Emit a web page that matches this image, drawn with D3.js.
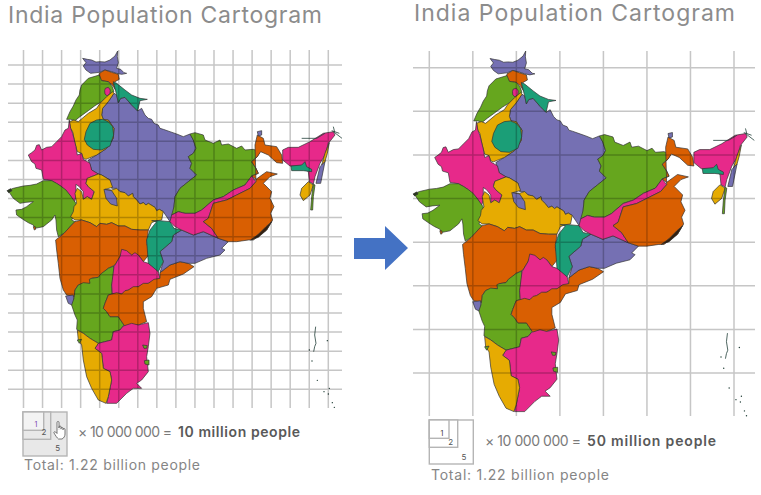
<!DOCTYPE html>
<html><head><meta charset="utf-8">
<script src="https://cdn.jsdelivr.net/npm/d3@7"></script>
<style>html,body{margin:0;padding:0;background:#fff}svg{display:block}text{font-variant-ligatures:none}</style></head>
<body><svg id="c" width="761" height="495"></svg>
<script>
const titleText = "India Population Cartogram";
const totalText = "Total: 1.22 billion people";
const multiplierText = "× 10 000 000 =";
const legendBold = ["10 million people", "50 million people"];
const legendUnits = ["1", "2", "5"];
const purple="#7570b3", green="#66a61e", pink="#e7298a", teal="#1b9e77", orange="#d95f02", yellow="#e6ab02";

const kashmir=[[248,175],[262,178],[275,180],[288,186],[300,185],[315,186],[330,180],[345,168],[353,153],[352,170],[355,188],[350,205],[362,208],[372,218],[380,220],[365,223],[350,220],[335,215],[315,210],[298,217],[272,220],[258,210],[250,198],[258,188]];
const ladakh=[[298,220],[315,210],[335,217],[355,223],[358,238],[345,245],[340,250],[347,270],[337,255],[325,245],[305,242],[296,232]];
const punjab=[[298,225],[305,242],[325,245],[337,260],[342,275],[322,292],[305,305],[285,317],[265,332],[240,350],[225,362],[212,358],[200,358],[210,335],[220,318],[228,300],[238,285],[240,270],[245,255],[265,235]];
const chandigarh=[[316,265],[325,262],[331,270],[330,280],[322,288],[315,282],[314,272]];
const uttarakhand=[[340,245],[350,250],[375,270],[395,285],[420,295],[442,298],[420,302],[413,333],[395,315],[375,292],[362,295],[355,308],[350,285],[345,265]];
const haryana=[[342,280],[325,305],[308,325],[305,345],[310,358],[325,360],[342,385],[340,415],[320,445],[290,465],[258,478],[250,475],[245,460],[232,455],[225,430],[218,395],[212,385],[208,365],[222,360],[235,365],[265,340],[290,325],[300,310],[320,290],[338,275]];
const delhi=[[290,360],[308,358],[325,365],[338,380],[341,405],[330,438],[305,450],[280,448],[262,435],[253,418],[258,395],[270,370]];
const uttarPradesh=[[350,285],[355,308],[362,295],[375,292],[395,315],[413,333],[425,325],[435,345],[445,355],[455,358],[462,370],[475,375],[480,385],[490,388],[510,395],[530,402],[550,410],[570,402],[580,420],[588,445],[580,460],[565,470],[575,490],[570,505],[590,525],[565,545],[540,565],[525,590],[522,620],[525,640],[512,668],[500,650],[490,635],[478,628],[470,632],[465,622],[445,610],[438,615],[430,608],[420,612],[410,600],[400,590],[398,580],[385,588],[375,578],[360,575],[350,565],[335,565],[330,540],[305,525],[295,522],[275,510],[265,480],[290,465],[320,445],[340,415],[342,385],[325,360],[310,358],[305,345],[308,325],[325,305],[342,280]];
const rajasthan=[[208,360],[212,385],[218,400],[228,440],[232,465],[245,460],[250,478],[262,485],[270,490],[275,510],[295,522],[262,535],[258,550],[265,560],[283,575],[275,598],[262,590],[250,598],[250,575],[238,560],[228,553],[228,590],[222,610],[210,585],[185,560],[155,542],[130,538],[125,510],[108,505],[105,492],[95,485],[85,465],[95,458],[105,450],[110,436],[118,434],[125,450],[140,442],[155,440],[170,425],[185,410],[195,390],[205,385]];
const gujarat=[[22,572],[40,565],[70,558],[90,556],[110,552],[130,542],[155,542],[170,550],[185,560],[198,570],[210,585],[228,610],[225,645],[215,660],[225,665],[215,675],[192,700],[175,710],[170,690],[168,660],[165,645],[155,660],[140,672],[130,680],[105,685],[100,675],[85,668],[72,660],[50,645],[48,630],[65,628],[80,620],[100,605],[78,607],[60,610],[40,595],[30,580]];
const diu=[[100,680],[106,680],[107,688],[103,690]];
const madhyaPradesh=[[262,535],[295,522],[305,525],[330,540],[338,562],[315,568],[335,570],[350,565],[360,575],[375,578],[385,588],[398,580],[400,590],[410,600],[420,612],[430,608],[438,615],[445,610],[465,622],[470,632],[478,628],[490,635],[485,660],[470,662],[455,668],[445,690],[420,690],[395,688],[375,678],[355,678],[335,668],[320,673],[300,670],[290,680],[270,668],[245,660],[225,660],[212,650],[220,635],[222,620],[230,610],[225,580],[232,565],[245,575],[250,598],[262,590],[275,598],[283,575],[265,560],[258,550]];
const lake=[[312,568],[335,572],[350,595],[352,618],[332,612],[318,595]];
const maharashtra=[[225,665],[245,660],[270,668],[290,680],[300,670],[320,673],[335,668],[355,678],[375,678],[395,688],[420,690],[445,690],[440,730],[450,760],[430,785],[415,765],[395,765],[370,750],[360,770],[345,795],[325,805],[295,832],[275,835],[270,850],[235,855],[225,870],[225,890],[200,885],[190,870],[180,835],[175,790],[170,750],[167,720],[180,710],[192,700],[215,675]];
const goa=[[197,888],[220,885],[222,918],[205,910]];
const karnataka=[[225,870],[235,855],[250,848],[270,850],[268,838],[275,835],[295,832],[302,822],[325,805],[342,798],[340,830],[335,860],[337,882],[325,885],[315,910],[310,925],[320,935],[330,950],[355,950],[372,975],[360,990],[340,995],[335,1020],[295,1030],[270,1015],[250,1000],[230,988],[232,960],[225,945],[215,915],[222,895]];
const telangana=[[365,748],[380,752],[395,765],[405,758],[415,765],[430,785],[445,790],[460,800],[475,815],[480,835],[445,850],[415,860],[385,870],[365,882],[337,882],[335,855],[342,800],[345,795],[360,770]];
const andhra=[[325,885],[350,878],[365,882],[375,872],[385,870],[400,860],[415,860],[430,850],[445,850],[462,838],[480,835],[480,818],[510,795],[540,785],[565,790],[582,800],[550,822],[510,838],[505,855],[470,865],[455,890],[430,905],[430,925],[440,965],[415,975],[375,978],[372,975],[355,950],[330,950],[320,935],[310,925],[315,910]];
const tamilNadu=[[370,978],[395,970],[415,975],[445,968],[450,1000],[445,1040],[440,1070],[445,1115],[425,1140],[410,1150],[425,1165],[400,1165],[380,1180],[350,1210],[320,1210],[325,1190],[335,1140],[330,1115],[310,1105],[305,1060],[285,1045],[295,1030],[335,1020],[340,995],[360,990]];
const kerala=[[232,990],[250,1000],[270,1015],[295,1030],[285,1045],[305,1060],[310,1105],[330,1115],[335,1140],[325,1190],[318,1210],[295,1200],[275,1165],[260,1130],[250,1080],[245,1035],[235,1020]];
const pondicherry=[[428,1035],[442,1037],[440,1045],[432,1045]];
const karaikal=[[433,1082],[447,1080],[447,1095],[435,1092]];
const mahe=[[232,1020],[245,1018],[238,1030]];
const chhattisgarh=[[455,662],[480,662],[510,665],[522,685],[545,690],[520,705],[515,725],[480,755],[490,785],[475,815],[445,790],[440,720],[450,690],[470,665]];
const bihar=[[570,402],[585,398],[610,405],[615,420],[640,430],[660,420],[665,435],[685,432],[710,445],[725,438],[735,450],[760,448],[780,455],[772,470],[755,485],[768,505],[775,520],[755,528],[735,555],[700,570],[670,590],[640,600],[605,630],[585,640],[555,640],[535,635],[515,645],[522,620],[525,590],[540,565],[565,545],[590,525],[570,505],[575,490],[565,470],[580,460],[588,445],[580,420]];
const jharkhand=[[755,528],[768,545],[750,565],[710,585],[680,600],[640,610],[625,655],[610,665],[635,685],[655,715],[610,695],[580,705],[545,690],[525,680],[510,665],[515,645],[535,635],[555,640],[585,640],[605,630],[640,600],[670,590],[700,570],[735,555]];
const bengal=[[765,435],[772,405],[790,415],[795,435],[830,440],[845,465],[848,490],[830,488],[805,465],[782,455],[772,470],[755,485],[768,505],[775,520],[755,528],[768,538],[790,522],[800,515],[832,522],[810,530],[790,550],[815,575],[810,595],[822,620],[812,640],[818,660],[815,665],[800,690],[760,720],[745,720],[710,725],[685,725],[655,715],[635,685],[610,665],[625,655],[640,610],[680,600],[710,585],[750,565],[768,545]];
const odisha=[[490,785],[480,755],[515,725],[520,705],[545,690],[580,705],[610,695],[655,715],[685,725],[665,745],[675,750],[660,765],[620,775],[585,790],[565,790],[540,785],[510,795],[480,818]];
const sikkim=[[772,395],[785,392],[785,405],[775,408]];
const assam=[[848,450],[865,442],[895,442],[930,425],[970,400],[1000,395],[1005,405],[985,430],[975,465],[960,490],[945,530],[940,552],[928,545],[925,515],[905,498],[870,498],[848,480]];
const meghalaya=[[873,498],[905,495],[915,485],[920,500],[935,508],[935,515],[910,512],[875,512]];
const nagaland=[[988,428],[982,460],[975,485],[965,495],[975,460]];
const manipur=[[975,485],[962,550],[948,550],[960,500]];
const tripura=[[925,545],[940,555],[930,585],[910,602],[900,585],[905,565]];
const mizoram=[[940,552],[945,555],[940,590],[938,630],[932,630],[935,590]];
const andamanChain=[[947,980],[944,1005],[948,1030],[944,1040],[941,1055]];
const islets=[[982,1022],[928,1050],[936,1083],[952,1141],[988,1165],[972,1175],[985,1182],[997,1208],[1003,1222]];
const sundarbans=[[815,665],[800,690],[775,712],[752,720],[775,703],[798,680]];
const kutchShoal=[[22,572],[32,566],[36,572],[26,578]];
const tips=[[[905,415],[950,415],[975,400]],[[1000,380],[1004,396]],[[995,392],[1018,400]],[[1000,395],[1026,415]],andamanChain];

const regions=[
 [uttarPradesh,purple],[kashmir,purple],[ladakh,orange],[punjab,green],[chandigarh,pink],[uttarakhand,teal],[haryana,yellow],[delhi,teal],
 [rajasthan,pink],[gujarat,green],[diu,orange],[madhyaPradesh,yellow],[lake,purple],[maharashtra,orange],[goa,purple],[karnataka,green],
 [telangana,pink],[andhra,orange],[tamilNadu,pink],[kerala,yellow],[pondicherry,green],[karaikal,green],[mahe,green],[odisha,purple],
 [chhattisgarh,teal],[bihar,green],[jharkhand,pink],[bengal,orange],[sikkim,purple],[assam,pink],[meghalaya,teal],[nagaland,yellow],
 [manipur,purple],[tripura,yellow],[mizoram,green],[sundarbans,"#33200f"],[kutchShoal,"#2c3a20"]
];

const panels=[
 {x:d3.scaleLinear().domain([22,1026]).range([7.3,342]), y:d3.scaleLinear().domain([153,1215]).range([51,405]),
  gx:d3.scaleLinear().domain([0,16]).range([23.5,328.3]), gy:d3.scaleLinear().domain([0,17]).range([65,389.3]), nx:17, ny:18,
  hor:[8,342], ver:[50,408], title:[8,23,314], bold:0,
  box:[23,412,44],b2:[27.7,27.3],b1:[20.7,18.3], boxFill:"#e8e8e8",inFill:"#f3f3f3",unit:"#7a45b0",
  lx:[36,427,44,435,57.7,451], mult:[78,437,94], bx:[178,122], tot:[24,470,176]},
 {x:d3.scaleLinear().domain([22,1026]).range([413.3,754.3]), y:d3.scaleLinear().domain([153,1215]).range([51,413.3]),
  gx:d3.scaleLinear().domain([0,7]).range([429.3,734]), gy:d3.scaleLinear().domain([0,7]).range([67.7,373]), nx:8, ny:8,
  hor:[413,755], ver:[51,416], title:[414,21,321], bold:1,
  box:[429.3,420,44],b2:[28.4,27.3],b1:[19.7,18.3], boxFill:"#fff",inFill:"#fff",unit:"#333",
  lx:[442,436,450.7,445,464,460], mult:[485,446,96], bx:[587,129], tot:[431,480,178]}
];

const svg=d3.select("#c");
const F="Inter, 'Open Sans', sans-serif";
panels.forEach(p=>{
 const g=svg.append("g");
 const line=d3.line().x(d=>p.x(d[0])).y(d=>p.y(d[1]));
 g.selectAll("path.r").data(regions).join("path").attr("class","r")
  .attr("d",d=>line(d[0])+"Z").attr("fill",d=>d[1]).attr("stroke","#333").attr("stroke-width",0.7).attr("stroke-linejoin","round");
 g.selectAll("path.t").data(tips).join("path").attr("class","t").attr("d",d=>line(d)).attr("fill","none").attr("stroke","#23403a").attr("stroke-width",0.8);
 g.selectAll("circle").data(islets).join("circle").attr("cx",d=>p.x(d[0])).attr("cy",d=>p.y(d[1])).attr("r",0.7).attr("fill","#1d3b33");
 const grid=svg.append("g").attr("stroke","#000").attr("stroke-width",1.5).attr("opacity",0.22);
 grid.selectAll("line.v").data(d3.range(p.nx)).join("line").attr("class","v")
  .attr("x1",p.gx).attr("x2",p.gx).attr("y1",p.ver[0]).attr("y2",p.ver[1]);
 grid.selectAll("line.h").data(d3.range(p.ny)).join("line").attr("class","h")
  .attr("y1",p.gy).attr("y2",p.gy).attr("x1",p.hor[0]).attr("x2",p.hor[1]);
 svg.append("text").attr("x",p.title[0]).attr("y",p.title[1]).attr("textLength",p.title[2]).attr("font-family",F).attr("font-weight",400).attr("font-size",23).attr("fill","#8c8c8c").text(titleText);
 const [bx,by,bs]=p.box;
 const L=svg.append("g").attr("stroke","#b5b5b5").attr("stroke-width",1.4);
 L.append("rect").attr("x",bx).attr("y",by).attr("width",bs).attr("height",bs).attr("fill",p.boxFill);
 L.append("rect").attr("x",bx).attr("y",by).attr("width",p.b2[0]).attr("height",p.b2[1]).attr("fill",p.boxFill);
 L.append("rect").attr("x",bx).attr("y",by).attr("width",p.b1[0]).attr("height",p.b1[1]).attr("fill",p.inFill);
 [0,1,2].forEach(i=>svg.append("text").attr("x",p.lx[i*2]).attr("y",p.lx[i*2+1]).attr("text-anchor","middle").attr("font-family",F).attr("font-size",i==0?7:8).attr("fill",i==0?p.unit:"#555").text(legendUnits[i]));
 svg.append("text").attr("x",p.mult[0]).attr("y",p.mult[1]).attr("textLength",p.mult[2]).attr("font-family",F).attr("font-weight",400).attr("font-size",14).attr("fill","#7a7a7a").text(multiplierText);
 svg.append("text").attr("x",p.bx[0]).attr("y",p.mult[1]).attr("textLength",p.bx[1]).attr("font-family",F).attr("font-size",14).attr("font-weight",600).attr("fill","#595959").text(legendBold[p.bold]);
 svg.append("text").attr("x",p.tot[0]).attr("y",p.tot[1]).attr("textLength",p.tot[2]).attr("font-family",F).attr("font-weight",400).attr("font-size",14).attr("fill","#858585").text(totalText);
});
// pointer icon in the left legend
svg.append("path").attr("transform","translate(53.5,421)")
 .attr("d","M3.5 9V1.5a1 1 0 0 1 2 0V7M5.5 7V6a1 1 0 0 1 2 0V8M7.5 7.5a1 1 0 0 1 2 0V9M9.5 8.5a1 1 0 0 1 2 0V13c0 2-1 4-3 5H5C3.5 17 2 14.5 .5 12c-.5-1 .8-1.8 1.6-1L3.5 12.5V9")
 .attr("fill","#fff").attr("stroke","#444").attr("stroke-width",0.7);
// arrow between the maps
svg.append("path").attr("d",d3.line()([[354,238],[385,238],[385,226],[408,248],[385,270],[385,259],[354,259]])+"Z").attr("fill","#4472c4");
</script></body></html>
